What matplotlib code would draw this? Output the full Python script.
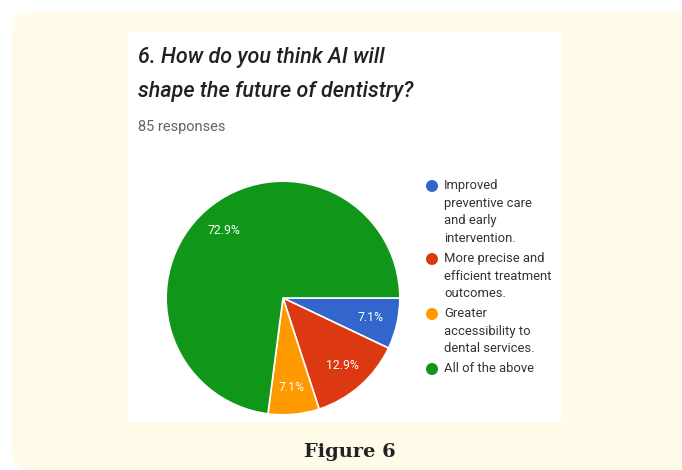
import matplotlib.pyplot as plt
from matplotlib.patches import FancyBboxPatch, Rectangle, Circle

# survey answers (85 responses)
labels = ['Improved\npreventive care\nand early\nintervention.',
          'More precise and\nefficient treatment\noutcomes.',
          'Greater\naccessibility to\ndental services.',
          'All of the above']
counts = [6, 11, 6, 62]
colors = ['#3366cc', '#dc3912', '#ff9900', '#109618']

W, H = 682, 470
fig = plt.figure(figsize=(W / 100, H / 100), dpi=100, facecolor='white')

# background: cream rounded card and white panel (pixel coords, y from top)
bg = fig.add_axes([0, 0, 1, 1])
bg.set_xlim(0, W)
bg.set_ylim(H, 0)
bg.axis('off')
bg.add_patch(FancyBboxPatch((12 + 20, 12 + 20), W + 40 - 12 - 40, H - 12 - 40,
                            boxstyle='round,pad=20', fc='#fffbe8', ec='none'))
bg.add_patch(Rectangle((128, 32), 433, 390, fc='white', ec='none'))

bg.text(138, 63, '6. How do you think AI will', fontsize=15.5, family='Roboto',
        style='italic', weight='medium', color='#202124', va='baseline')
bg.text(138, 97, 'shape the future of dentistry?', fontsize=15.5, family='Roboto',
        style='italic', weight='medium', color='#202124', va='baseline')
bg.text(138, 131, '85 responses', fontsize=10.5, family='Roboto',
        color='#5f6368', va='baseline')

# legend
ly = [186, 259, 314, 369]
for y, lab, c in zip(ly, labels, colors):
    bg.add_patch(Circle((432, y), 6, fc=c, ec='none'))
    bg.text(444, y - 7, lab, fontsize=9.4, family='Roboto', color='#333333',
            va='top', linespacing=1.47)

bg.text(350, 452, 'Figure 6', fontsize=14, family='DejaVu Serif',
        weight='bold', color='#222222', ha='center', va='center')

# pie, centre (283, 298), radius 118 px
cx, cy, r = 283, 298, 118
ax = fig.add_axes([(cx - r) / W, (H - cy - r) / H, 2 * r / W, 2 * r / H])
wedges, texts, autotexts = ax.pie(counts, colors=colors, startangle=0,
                                  counterclock=False, autopct='%1.1f%%',
                                  pctdistance=0.77, radius=1,
                                  wedgeprops=dict(ec='white', lw=1.2),
                                  textprops=dict(color='white', fontsize=8.8,
                                                 family='Roboto'))
ax.set_xlim(-1.01, 1.01)
ax.set_ylim(-1.01, 1.01)
ax.set_aspect('auto')
ax.axis('off')

fig.savefig('out.png', dpi=100, facecolor='white')
